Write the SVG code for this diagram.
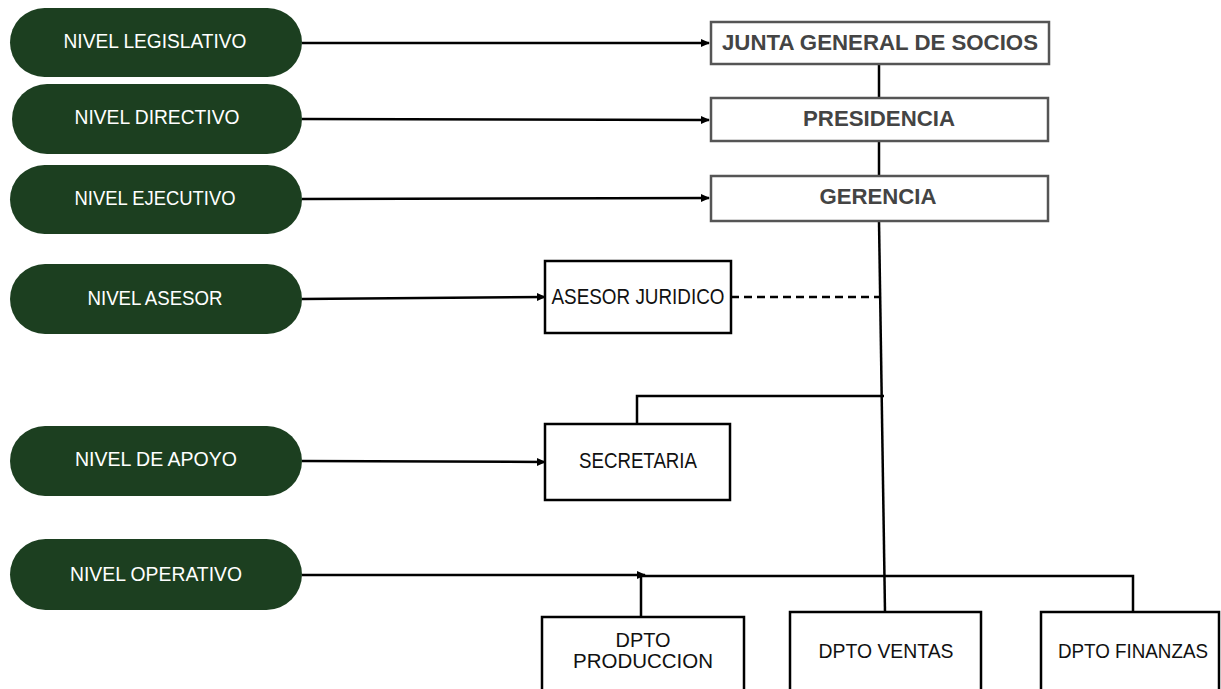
<svg xmlns="http://www.w3.org/2000/svg" width="1221" height="689" viewBox="0 0 1221 689">
<defs>
<marker id="arr" markerWidth="10" markerHeight="10" refX="8" refY="5" orient="auto" markerUnits="userSpaceOnUse">
<path d="M0,1 L9,5 L0,9 z" fill="#000"/>
</marker>
<style>
.pill{fill:#1c3f20;}
.pt{font-family:"Liberation Sans",Arial,sans-serif;font-size:19.5px;fill:#fff;text-anchor:middle;}
.box{fill:#fff;stroke:#000;stroke-width:2.5;}
.gbox{fill:#fff;stroke:#555;stroke-width:2.5;}
.bt{font-family:"Liberation Sans",Arial,sans-serif;font-size:22px;font-weight:bold;fill:#444;text-anchor:middle;}
.rt{font-family:"Liberation Sans",Arial,sans-serif;font-size:22px;fill:#111;text-anchor:middle;}
.dt{font-family:"Liberation Sans",Arial,sans-serif;font-size:19.5px;fill:#111;text-anchor:middle;}
.ln{fill:none;stroke:#000;stroke-width:2.5;}
</style>
</defs>
<rect width="1221" height="689" fill="#fff"/>

<g id="connectors">
<line class="ln" x1="302" y1="43" x2="709" y2="43" marker-end="url(#arr)"/>
<line class="ln" x1="302" y1="119" x2="709" y2="120" marker-end="url(#arr)"/>
<line class="ln" x1="302" y1="199" x2="709" y2="198" marker-end="url(#arr)"/>
<line class="ln" x1="302" y1="299" x2="545" y2="297" marker-end="url(#arr)"/>
<line class="ln" x1="302" y1="461" x2="545" y2="462" marker-end="url(#arr)"/>
<line class="ln" x1="302" y1="575" x2="645" y2="575" marker-end="url(#arr)"/>
<line class="ln" x1="879" y1="64" x2="879" y2="98"/>
<line class="ln" x1="879" y1="141" x2="879" y2="176"/>
<line class="ln" x1="879" y1="221" x2="885" y2="612"/>
<line class="ln" x1="731" y1="297" x2="880" y2="297" stroke-dasharray="8,5"/>
<polyline class="ln" points="637,424 637,396 884,396"/>
<polyline class="ln" points="641,617 641,576 1133,576 1133,612"/>
</g>

<g id="nivel-legislativo"><rect class="pill" x="10" y="8" width="292" height="69" rx="34.5"/><text class="pt" x="155" y="48" textLength="183" lengthAdjust="spacingAndGlyphs">NIVEL LEGISLATIVO</text></g>
<g id="nivel-directivo"><rect class="pill" x="12" y="84" width="290" height="70" rx="35"/><text class="pt" x="157" y="124" textLength="165" lengthAdjust="spacingAndGlyphs">NIVEL DIRECTIVO</text></g>
<g id="nivel-ejecutivo"><rect class="pill" x="10" y="165" width="292" height="69" rx="34.5"/><text class="pt" x="155" y="205" textLength="161" lengthAdjust="spacingAndGlyphs">NIVEL EJECUTIVO</text></g>
<g id="nivel-asesor"><rect class="pill" x="10" y="264" width="292" height="70" rx="35"/><text class="pt" x="155" y="305" textLength="135" lengthAdjust="spacingAndGlyphs">NIVEL ASESOR</text></g>
<g id="nivel-apoyo"><rect class="pill" x="10" y="426" width="292" height="70" rx="35"/><text class="pt" x="156" y="466" textLength="162" lengthAdjust="spacingAndGlyphs">NIVEL DE APOYO</text></g>
<g id="nivel-operativo"><rect class="pill" x="10" y="539" width="292" height="71" rx="35.5"/><text class="pt" x="156" y="581" textLength="172" lengthAdjust="spacingAndGlyphs">NIVEL OPERATIVO</text></g>

<g id="junta"><rect class="gbox" x="711" y="22" width="338" height="42"/><text class="bt" x="880" y="50" textLength="316" lengthAdjust="spacingAndGlyphs">JUNTA GENERAL DE SOCIOS</text></g>
<g id="presidencia"><rect class="gbox" x="711" y="98" width="337" height="43"/><text class="bt" x="879" y="126" textLength="152" lengthAdjust="spacingAndGlyphs">PRESIDENCIA</text></g>
<g id="gerencia"><rect class="gbox" x="711" y="176" width="337" height="45"/><text class="bt" x="878" y="204" textLength="117" lengthAdjust="spacingAndGlyphs">GERENCIA</text></g>

<g id="asesor-juridico"><rect class="box" x="545" y="261" width="186" height="72"/><text class="rt" x="638" y="304" textLength="173" lengthAdjust="spacingAndGlyphs">ASESOR JURIDICO</text></g>
<g id="secretaria"><rect class="box" x="545" y="424" width="185" height="76"/><text class="rt" x="638" y="468" textLength="118" lengthAdjust="spacingAndGlyphs">SECRETARIA</text></g>

<g id="dpto-produccion"><rect class="box" x="542" y="617" width="202" height="74"/><text class="dt" x="643" y="647" textLength="55" lengthAdjust="spacingAndGlyphs">DPTO</text><text class="dt" x="643" y="668" textLength="140" lengthAdjust="spacingAndGlyphs">PRODUCCION</text></g>
<g id="dpto-ventas"><rect class="box" x="790" y="612" width="191" height="79"/><text class="dt" x="886" y="658" textLength="135" lengthAdjust="spacingAndGlyphs">DPTO VENTAS</text></g>
<g id="dpto-finanzas"><rect class="box" x="1041" y="612" width="178" height="79"/><text class="dt" x="1133" y="658" textLength="150" lengthAdjust="spacingAndGlyphs">DPTO FINANZAS</text></g>
</svg>
